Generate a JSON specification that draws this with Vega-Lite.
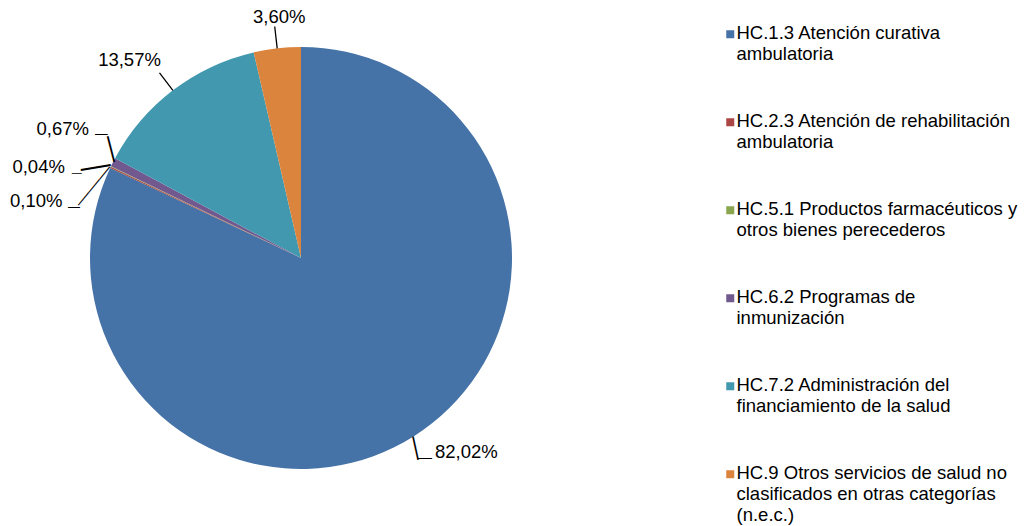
{
  "$schema": "https://vega.github.io/schema/vega-lite/v6.json",
  "width": 602,
  "height": 516,
  "padding": 0,
  "background": "white",
  "config": {
    "view": {"stroke": null},
    "locale": {"number": {"decimal": ",", "thousands": ".", "grouping": [3], "currency": ["", " €"]}},
    "text": {"font": "Liberation Sans", "fontSize": 18.5, "color": "#000"}
  },
  "data": {
    "values": [
      {"categoria": "HC.1.3 Atención curativa\nambulatoria", "valor": 0.8202},
      {"categoria": "HC.2.3 Atención de rehabilitación\nambulatoria", "valor": 0.0010},
      {"categoria": "HC.5.1 Productos farmacéuticos y\notros bienes perecederos", "valor": 0.0004},
      {"categoria": "HC.6.2 Programas de\ninmunización", "valor": 0.0067},
      {"categoria": "HC.7.2 Administración del\nfinanciamiento de la salud", "valor": 0.1357},
      {"categoria": "HC.9 Otros servicios de salud no\nclasificados en otras categorías\n(n.e.c.)", "valor": 0.0360}
    ]
  },
  "encoding": {
    "theta": {"field": "valor", "type": "quantitative", "stack": true},
    "order": {"field": "categoria", "type": "ordinal", "sort": "ascending"}
  },
  "layer": [
    {
      "mark": {"type": "arc", "outerRadius": 211},
      "encoding": {
        "color": {
          "field": "categoria",
          "type": "nominal",
          "scale": {
            "range": ["#4572A7", "#AA4643", "#89A54E", "#71588F", "#4198AF", "#DB843D"]
          },
          "legend": {
            "title": null,
            "orient": "none",
            "legendX": 721,
            "legendY": 25,
            "symbolType": "square",
            "symbolSize": 64,
            "symbolStrokeWidth": 0,
            "labelFont": "Liberation Sans",
            "labelFontSize": 18.5,
            "labelColor": "#000",
            "labelLimit": 0,
            "labelOffset": -3,
            "labelBaseline": "alphabetic",
            "labelExpr": "split(datum.label, '\\n')",
            "rowPadding": 47,
            "encode": {"labels": {"update": {"dy": {"value": 4.5}, "lineHeight": {"value": 21}}}}
          }
        }
      }
    },
    {
      "mark": {"type": "arc", "innerRadius": 211, "outerRadius": 233, "padAngle": 3.1416, "fill": "transparent", "stroke": "#000", "strokeWidth": 1.3},
      "encoding": {
        "detail": {"field": "categoria"},
        "strokeOpacity": {"condition": {"test": "indexof(datum.categoria, 'HC.7.2') == 0 || indexof(datum.categoria, 'HC.9') == 0", "value": 1}, "value": 0}
      }
    },
    {
      "mark": {"type": "text", "radius": 211, "fontSize": 24, "angle": 77.7, "align": "left", "baseline": "middle"},
      "encoding": {
        "detail": {"field": "categoria"},
        "text": {"condition": {"test": "indexof(datum.categoria, 'HC.1.3') == 0", "value": "—"}, "value": ""}
      }
    },
    {
      "mark": {"type": "text", "radius": 211, "fontSize": 14, "align": "left", "baseline": "middle", "dx": 4, "dy": 22},
      "encoding": {
        "detail": {"field": "categoria"},
        "text": {"condition": {"test": "indexof(datum.categoria, 'HC.1.3') == 0", "value": "—"}, "value": ""}
      }
    },
    {
      "mark": {"type": "text", "radius": 211, "fontSize": 26.5, "angle": 255.6, "align": "left", "baseline": "middle"},
      "encoding": {
        "detail": {"field": "categoria"},
        "text": {"condition": {"test": "indexof(datum.categoria, 'HC.6.2') == 0", "value": "—"}, "value": ""}
      }
    },
    {
      "mark": {"type": "text", "radius": 211, "fontSize": 12.7, "align": "right", "baseline": "middle", "dx": -5.3, "dy": -27.9},
      "encoding": {
        "detail": {"field": "categoria"},
        "text": {"condition": {"test": "indexof(datum.categoria, 'HC.6.2') == 0", "value": "—"}, "value": ""}
      }
    },
    {
      "mark": {"type": "text", "radius": 211, "fontSize": 30.4, "angle": 170.5, "align": "left", "baseline": "middle"},
      "encoding": {
        "detail": {"field": "categoria"},
        "text": {"condition": {"test": "indexof(datum.categoria, 'HC.5.1') == 0", "value": "—"}, "value": ""}
      }
    },
    {
      "mark": {"type": "text", "radius": 211, "fontSize": 10, "align": "right", "baseline": "middle", "dx": -29.2, "dy": 6.2},
      "encoding": {
        "detail": {"field": "categoria"},
        "text": {"condition": {"test": "indexof(datum.categoria, 'HC.5.1') == 0", "value": "—"}, "value": ""}
      }
    },
    {
      "mark": {"type": "text", "radius": 211, "fontSize": 16.6, "angle": 129.5, "align": "left", "baseline": "middle"},
      "encoding": {
        "detail": {"field": "categoria"},
        "text": {"condition": {"test": "indexof(datum.categoria, 'HC.2.3') == 0", "value": "———"}, "value": ""}
      }
    },
    {
      "mark": {"type": "text", "radius": 211, "fontSize": 12, "align": "right", "baseline": "middle", "dx": -30.5, "dy": 39.4},
      "encoding": {
        "detail": {"field": "categoria"},
        "text": {"condition": {"test": "indexof(datum.categoria, 'HC.2.3') == 0", "value": "—"}, "value": ""}
      }
    },
    {
      "mark": {"type": "text", "radius": 211, "align": "left", "baseline": "middle", "dx": 21, "dy": 16},
      "encoding": {
        "detail": {"field": "categoria"},
        "text": {"condition": {"test": "indexof(datum.categoria, 'HC.1.3') == 0", "field": "valor", "type": "quantitative", "format": ".2%"}, "value": ""}
      }
    },
    {
      "mark": {"type": "text", "radius": 211, "align": "right", "baseline": "middle", "dx": -48, "dy": 34},
      "encoding": {
        "detail": {"field": "categoria"},
        "text": {"condition": {"test": "indexof(datum.categoria, 'HC.2.3') == 0", "field": "valor", "type": "quantitative", "format": ".2%"}, "value": ""}
      }
    },
    {
      "mark": {"type": "text", "radius": 211, "align": "right", "baseline": "middle", "dx": -46, "dy": 1},
      "encoding": {
        "detail": {"field": "categoria"},
        "text": {"condition": {"test": "indexof(datum.categoria, 'HC.5.1') == 0", "field": "valor", "type": "quantitative", "format": ".2%"}, "value": ""}
      }
    },
    {
      "mark": {"type": "text", "radius": 211, "align": "right", "baseline": "middle", "dx": -24, "dy": -33},
      "encoding": {
        "detail": {"field": "categoria"},
        "text": {"condition": {"test": "indexof(datum.categoria, 'HC.6.2') == 0", "field": "valor", "type": "quantitative", "format": ".2%"}, "value": ""}
      }
    },
    {
      "mark": {"type": "text", "radius": 211, "align": "right", "baseline": "middle", "dx": -12, "dy": -30},
      "encoding": {
        "detail": {"field": "categoria"},
        "text": {"condition": {"test": "indexof(datum.categoria, 'HC.7.2') == 0", "field": "valor", "type": "quantitative", "format": ".2%"}, "value": ""}
      }
    },
    {
      "mark": {"type": "text", "radius": 211, "align": "center", "baseline": "middle", "dx": 2, "dy": -31},
      "encoding": {
        "detail": {"field": "categoria"},
        "text": {"condition": {"test": "indexof(datum.categoria, 'HC.9') == 0", "field": "valor", "type": "quantitative", "format": ".2%"}, "value": ""}
      }
    }
  ]
}
